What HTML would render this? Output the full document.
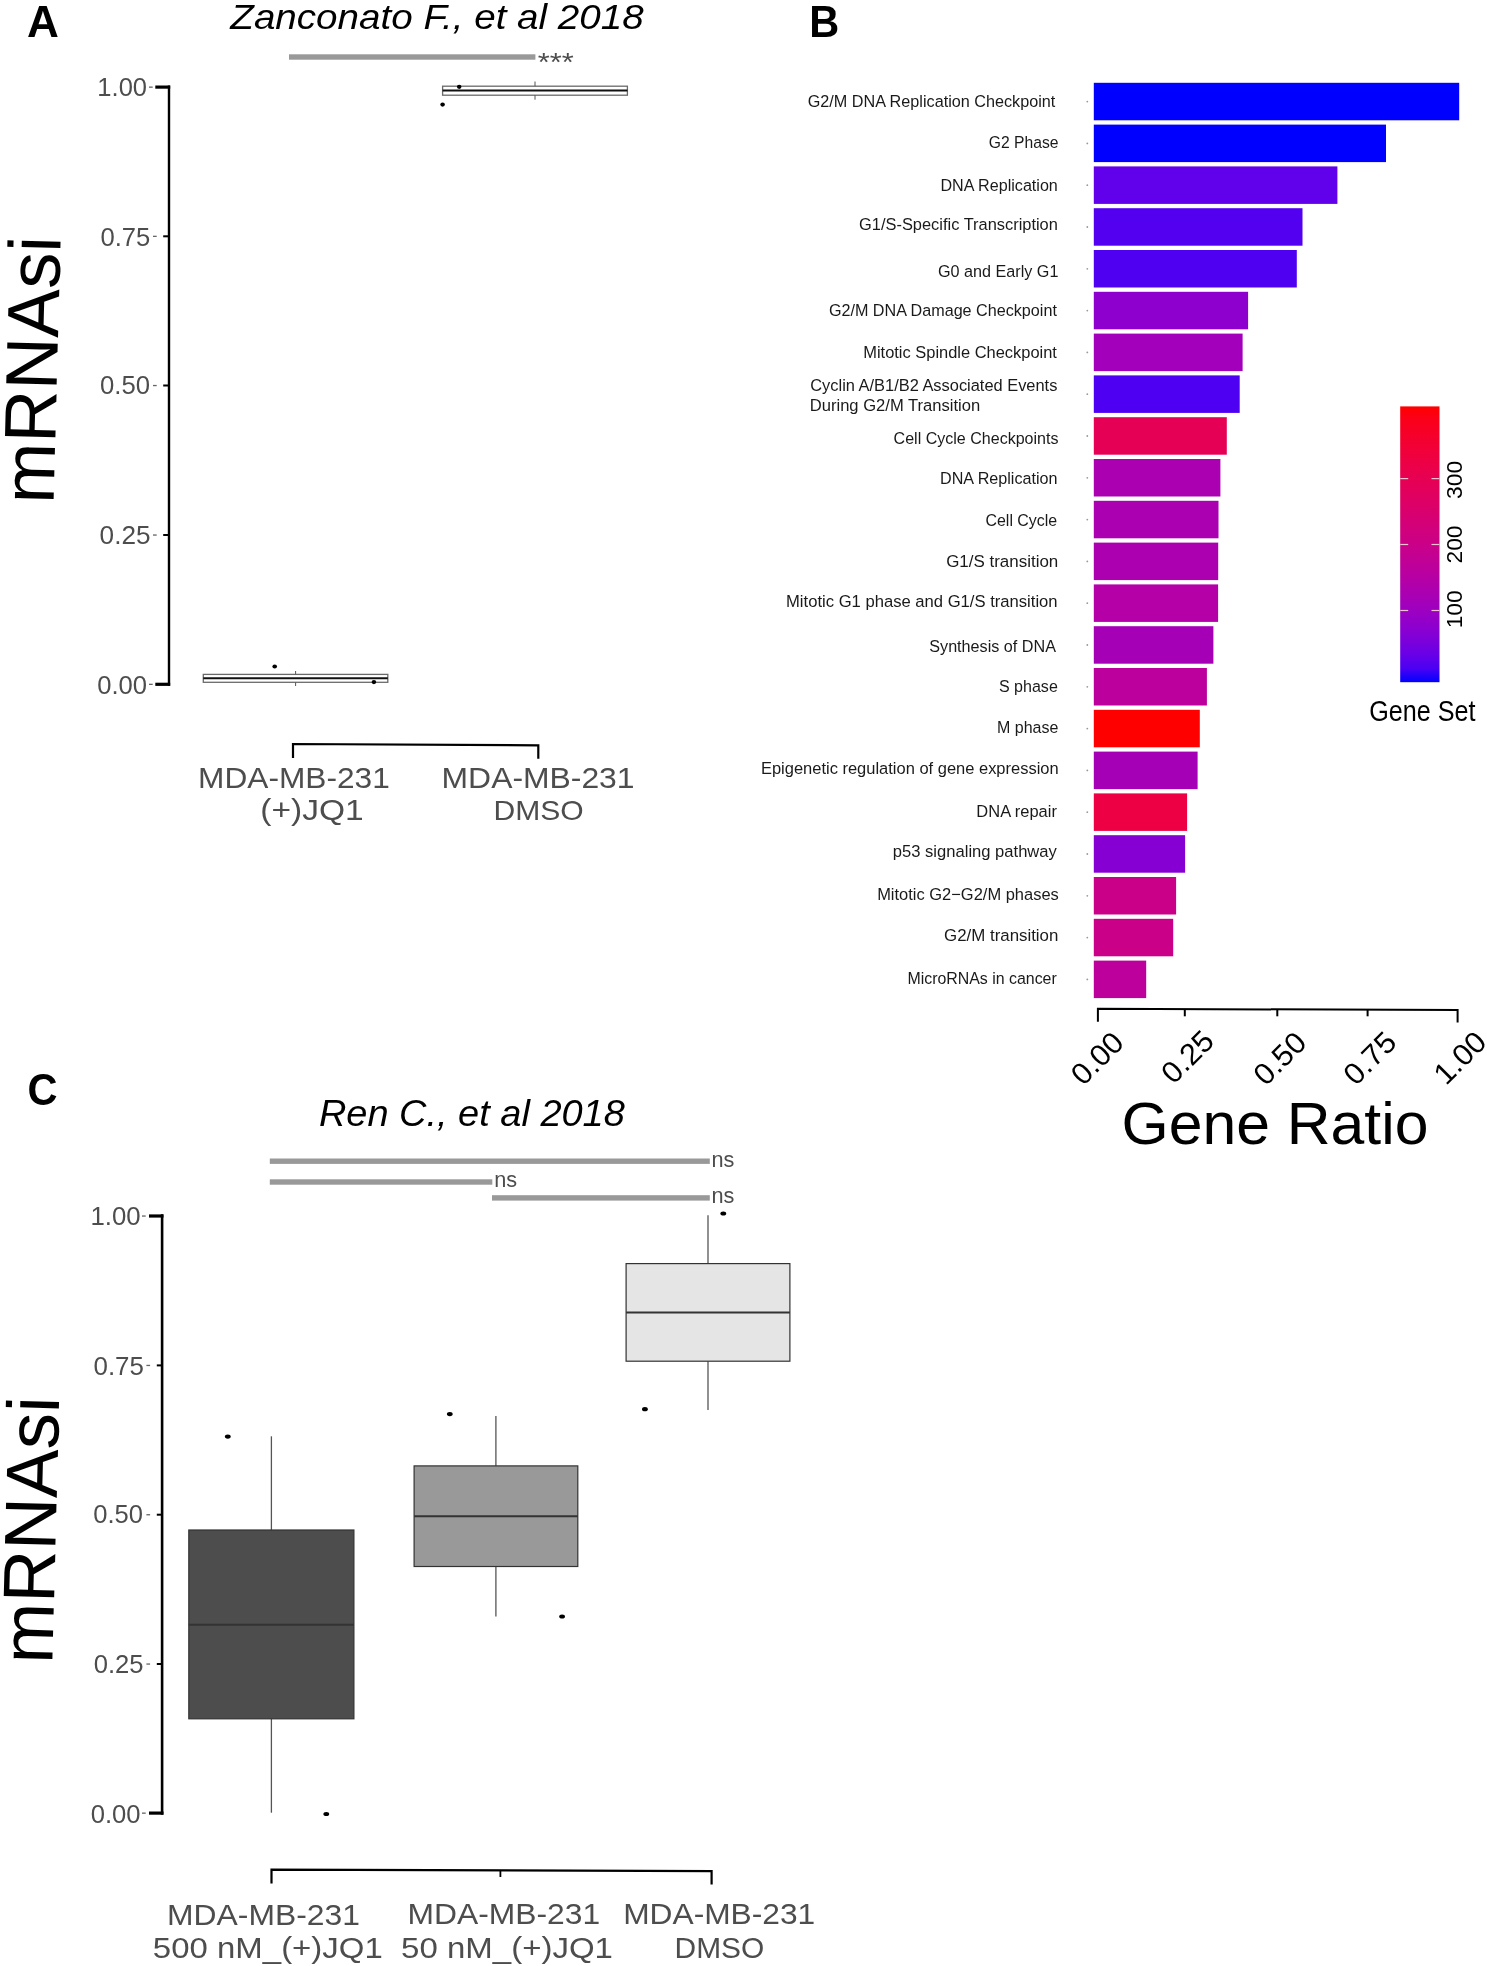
<!DOCTYPE html>
<html><head><meta charset="utf-8"><style>
html,body{margin:0;padding:0;background:#fff;}
svg{display:block;font-family:"Liberation Sans", sans-serif;will-change:transform;}
</style></head><body>
<svg width="1487" height="1966" viewBox="0 0 1487 1966">
<rect width="1487" height="1966" fill="#fff"/>
<text x="26.90" y="36.70" font-size="43.61" fill="#000" font-weight="bold" font-style="normal" textLength="31.86" lengthAdjust="spacingAndGlyphs" >A</text>
<text x="809.22" y="36.80" font-size="43.75" fill="#000" font-weight="bold" font-style="normal" textLength="29.96" lengthAdjust="spacingAndGlyphs" >B</text>
<text x="27.59" y="1104.97" font-size="44.21" fill="#000" font-weight="bold" font-style="normal" textLength="30.04" lengthAdjust="spacingAndGlyphs" >C</text>
<text x="230.34" y="28.60" font-size="35.76" fill="#000" font-weight="normal" font-style="italic" textLength="413.38" lengthAdjust="spacingAndGlyphs" >Zanconato F., et al 2018</text>
<rect x="289" y="54.3" width="246.4" height="5.4" fill="#999999"/>
<text x="537.80" y="70.72" font-size="26.49" fill="#4d4d4d" font-weight="normal" font-style="normal" textLength="35.98" lengthAdjust="spacingAndGlyphs" >***</text>
<line x1="169" y1="85.4" x2="169" y2="685.8" stroke="#000" stroke-width="2.4" stroke-linecap="butt"/>
<rect x="155.3" y="85.5" width="14.9" height="3.2" fill="#000"/>
<rect x="149.0" y="86.5" width="3.7" height="1.3" fill="#666"/>
<text x="97.36" y="95.95" font-size="25.71" fill="#4d4d4d" font-weight="normal" font-style="normal" textLength="49.64" lengthAdjust="spacingAndGlyphs" >1.00</text>
<rect x="163.2" y="235.3" width="6.5" height="2.0" fill="#000"/>
<rect x="153.0" y="235.70000000000002" width="3.7" height="1.3" fill="#666"/>
<text x="100.40" y="245.94" font-size="26.55" fill="#4d4d4d" font-weight="normal" font-style="normal" textLength="49.88" lengthAdjust="spacingAndGlyphs" >0.75</text>
<rect x="163.2" y="384.5" width="6.5" height="2.0" fill="#000"/>
<rect x="153.0" y="384.9" width="3.7" height="1.3" fill="#666"/>
<text x="100.00" y="394.14" font-size="26.27" fill="#4d4d4d" font-weight="normal" font-style="normal" textLength="50.01" lengthAdjust="spacingAndGlyphs" >0.50</text>
<rect x="163.2" y="534.0" width="6.5" height="2.0" fill="#000"/>
<rect x="153.0" y="534.4" width="3.7" height="1.3" fill="#666"/>
<text x="99.58" y="544.04" font-size="26.41" fill="#4d4d4d" font-weight="normal" font-style="normal" textLength="50.92" lengthAdjust="spacingAndGlyphs" >0.25</text>
<rect x="155.3" y="682.6999999999999" width="14.9" height="3.2" fill="#000"/>
<rect x="149.0" y="683.6999999999999" width="3.7" height="1.3" fill="#666"/>
<text x="97.20" y="693.74" font-size="26.13" fill="#4d4d4d" font-weight="normal" font-style="normal" textLength="49.80" lengthAdjust="spacingAndGlyphs" >0.00</text>
<text x="0" y="0" font-size="73.3" fill="#000" transform="translate(53.6,504.0) rotate(-88.5)" textLength="267.4" lengthAdjust="spacingAndGlyphs">mRNAsi</text>
<rect x="442.6" y="86.2" width="184.79999999999995" height="9.0" fill="#fff" stroke="#6a6a6a" stroke-width="1.3"/>
<line x1="442.6" y1="90.6" x2="627.4" y2="90.6" stroke="#111" stroke-width="2.0" stroke-linecap="butt"/>
<line x1="535" y1="81.5" x2="535" y2="86.2" stroke="#555" stroke-width="1" stroke-linecap="butt"/>
<line x1="535" y1="95.2" x2="535" y2="99.7" stroke="#555" stroke-width="1" stroke-linecap="butt"/>
<ellipse cx="459.2" cy="86.8" rx="2.3" ry="2.1" fill="#000"/>
<ellipse cx="442.6" cy="104.6" rx="2.3" ry="2.1" fill="#000"/>
<rect x="203.3" y="674.4" width="184.5" height="7.899999999999977" fill="#fff" stroke="#6a6a6a" stroke-width="1.3"/>
<line x1="203.3" y1="678.2" x2="387.8" y2="678.2" stroke="#111" stroke-width="2.0" stroke-linecap="butt"/>
<line x1="295.6" y1="671" x2="295.6" y2="674.4" stroke="#555" stroke-width="1" stroke-linecap="butt"/>
<line x1="295.6" y1="682.3" x2="295.6" y2="686" stroke="#555" stroke-width="1" stroke-linecap="butt"/>
<ellipse cx="274.7" cy="666.5" rx="2.3" ry="2.1" fill="#000"/>
<ellipse cx="373.9" cy="682.1" rx="2.3" ry="2.1" fill="#000"/>
<polyline points="293,758 293,744 538.3,745.3 538.3,758.7" fill="none" stroke="#000" stroke-width="2.2"/>
<text x="198.10" y="787.50" font-size="28.92" fill="#4d4d4d" font-weight="normal" font-style="normal" textLength="191.64" lengthAdjust="spacingAndGlyphs" >MDA-MB-231</text>
<text x="260.22" y="820.20" font-size="28.90" fill="#4d4d4d" font-weight="normal" font-style="normal" textLength="103.42" lengthAdjust="spacingAndGlyphs" >(+)JQ1</text>
<text x="441.59" y="787.50" font-size="28.92" fill="#4d4d4d" font-weight="normal" font-style="normal" textLength="192.97" lengthAdjust="spacingAndGlyphs" >MDA-MB-231</text>
<text x="493.43" y="820.40" font-size="27.47" fill="#4d4d4d" font-weight="normal" font-style="normal" textLength="90.21" lengthAdjust="spacingAndGlyphs" >DMSO</text>
<rect x="1093.8" y="82.8" width="365.4000000000001" height="37.5" fill="#0000ff"/>
<ellipse cx="1087.3" cy="101.6" rx="0.9" ry="0.9" fill="#999"/>
<text x="807.69" y="107.20" font-size="16.70" fill="#1a1a1a" font-weight="normal" font-style="normal" textLength="247.63" lengthAdjust="spacingAndGlyphs" >G2/M DNA Replication Checkpoint</text>
<rect x="1093.8" y="124.6" width="292.20000000000005" height="37.5" fill="#0000ff"/>
<ellipse cx="1087.3" cy="143.4" rx="0.9" ry="0.9" fill="#999"/>
<text x="988.81" y="147.60" font-size="16.70" fill="#1a1a1a" font-weight="normal" font-style="normal" textLength="69.68" lengthAdjust="spacingAndGlyphs" >G2 Phase</text>
<rect x="1093.8" y="166.39999999999998" width="243.60000000000014" height="37.5" fill="#6100ea"/>
<ellipse cx="1087.3" cy="185.2" rx="0.9" ry="0.9" fill="#999"/>
<text x="940.49" y="191.40" font-size="16.70" fill="#1a1a1a" font-weight="normal" font-style="normal" textLength="117.35" lengthAdjust="spacingAndGlyphs" >DNA Replication</text>
<rect x="1093.8" y="208.2" width="208.70000000000005" height="37.5" fill="#5300f0"/>
<ellipse cx="1087.3" cy="227.0" rx="0.9" ry="0.9" fill="#999"/>
<text x="859.08" y="230.30" font-size="16.70" fill="#1a1a1a" font-weight="normal" font-style="normal" textLength="198.78" lengthAdjust="spacingAndGlyphs" >G1/S-Specific Transcription</text>
<rect x="1093.8" y="250.0" width="203.0" height="37.5" fill="#5000f1"/>
<ellipse cx="1087.3" cy="268.8" rx="0.9" ry="0.9" fill="#999"/>
<text x="937.99" y="276.90" font-size="16.70" fill="#1a1a1a" font-weight="normal" font-style="normal" textLength="120.40" lengthAdjust="spacingAndGlyphs" >G0 and Early G1</text>
<rect x="1093.8" y="291.8" width="154.29999999999995" height="37.5" fill="#8d00ce"/>
<ellipse cx="1087.3" cy="310.6" rx="0.9" ry="0.9" fill="#999"/>
<text x="828.89" y="316.30" font-size="16.70" fill="#1a1a1a" font-weight="normal" font-style="normal" textLength="228.03" lengthAdjust="spacingAndGlyphs" >G2/M DNA Damage Checkpoint</text>
<rect x="1093.8" y="333.59999999999997" width="148.79999999999995" height="37.5" fill="#a200bb"/>
<ellipse cx="1087.3" cy="352.4" rx="0.9" ry="0.9" fill="#999"/>
<text x="863.25" y="358.00" font-size="16.70" fill="#1a1a1a" font-weight="normal" font-style="normal" textLength="193.67" lengthAdjust="spacingAndGlyphs" >Mitotic Spindle Checkpoint</text>
<rect x="1093.8" y="375.4" width="145.9000000000001" height="37.5" fill="#4d00f2"/>
<ellipse cx="1087.3" cy="394.2" rx="0.9" ry="0.9" fill="#999"/>
<text x="810.27" y="390.90" font-size="16.70" fill="#1a1a1a" font-weight="normal" font-style="normal" textLength="247.12" lengthAdjust="spacingAndGlyphs" >Cyclin A/B1/B2 Associated Events</text>
<rect x="1093.8" y="417.2" width="133.0" height="37.5" fill="#e50056"/>
<ellipse cx="1087.3" cy="436.0" rx="0.9" ry="0.9" fill="#999"/>
<text x="893.59" y="444.00" font-size="16.70" fill="#1a1a1a" font-weight="normal" font-style="normal" textLength="164.89" lengthAdjust="spacingAndGlyphs" >Cell Cycle Checkpoints</text>
<rect x="1093.8" y="459.0" width="126.60000000000014" height="37.5" fill="#aa00b2"/>
<ellipse cx="1087.3" cy="477.8" rx="0.9" ry="0.9" fill="#999"/>
<text x="939.99" y="484.00" font-size="16.70" fill="#1a1a1a" font-weight="normal" font-style="normal" textLength="117.56" lengthAdjust="spacingAndGlyphs" >DNA Replication</text>
<rect x="1093.8" y="500.8" width="124.70000000000005" height="37.5" fill="#aa00b2"/>
<ellipse cx="1087.3" cy="519.6" rx="0.9" ry="0.9" fill="#999"/>
<text x="985.49" y="525.90" font-size="16.70" fill="#1a1a1a" font-weight="normal" font-style="normal" textLength="71.72" lengthAdjust="spacingAndGlyphs" >Cell Cycle</text>
<rect x="1093.8" y="542.5999999999999" width="124.40000000000009" height="37.5" fill="#ac00b0"/>
<ellipse cx="1087.3" cy="561.3999999999999" rx="0.9" ry="0.9" fill="#999"/>
<text x="946.15" y="566.80" font-size="16.70" fill="#1a1a1a" font-weight="normal" font-style="normal" textLength="112.15" lengthAdjust="spacingAndGlyphs" >G1/S transition</text>
<rect x="1093.8" y="584.4" width="124.29999999999995" height="37.5" fill="#b400a6"/>
<ellipse cx="1087.3" cy="603.1999999999999" rx="0.9" ry="0.9" fill="#999"/>
<text x="786.04" y="607.00" font-size="16.70" fill="#1a1a1a" font-weight="normal" font-style="normal" textLength="271.54" lengthAdjust="spacingAndGlyphs" >Mitotic G1 phase and G1/S transition</text>
<rect x="1093.8" y="626.1999999999999" width="119.60000000000014" height="37.5" fill="#a600b7"/>
<ellipse cx="1087.3" cy="644.9999999999999" rx="0.9" ry="0.9" fill="#999"/>
<text x="929.27" y="651.50" font-size="16.70" fill="#1a1a1a" font-weight="normal" font-style="normal" textLength="126.67" lengthAdjust="spacingAndGlyphs" >Synthesis of DNA</text>
<rect x="1093.8" y="667.9999999999999" width="113.10000000000014" height="37.5" fill="#bb009d"/>
<ellipse cx="1087.3" cy="686.7999999999998" rx="0.9" ry="0.9" fill="#999"/>
<text x="998.97" y="692.10" font-size="16.70" fill="#1a1a1a" font-weight="normal" font-style="normal" textLength="58.84" lengthAdjust="spacingAndGlyphs" >S phase</text>
<rect x="1093.8" y="709.8" width="106.0" height="37.5" fill="#ff0000"/>
<ellipse cx="1087.3" cy="728.5999999999999" rx="0.9" ry="0.9" fill="#999"/>
<text x="996.99" y="733.00" font-size="16.70" fill="#1a1a1a" font-weight="normal" font-style="normal" textLength="61.32" lengthAdjust="spacingAndGlyphs" >M phase</text>
<rect x="1093.8" y="751.5999999999999" width="103.79999999999995" height="37.5" fill="#a600b7"/>
<ellipse cx="1087.3" cy="770.3999999999999" rx="0.9" ry="0.9" fill="#999"/>
<text x="760.95" y="774.40" font-size="16.70" fill="#1a1a1a" font-weight="normal" font-style="normal" textLength="297.72" lengthAdjust="spacingAndGlyphs" >Epigenetic regulation of gene expression</text>
<rect x="1093.8" y="793.3999999999999" width="93.29999999999995" height="37.5" fill="#ed0044"/>
<ellipse cx="1087.3" cy="812.1999999999998" rx="0.9" ry="0.9" fill="#999"/>
<text x="976.36" y="817.30" font-size="16.70" fill="#1a1a1a" font-weight="normal" font-style="normal" textLength="80.51" lengthAdjust="spacingAndGlyphs" >DNA repair</text>
<rect x="1093.8" y="835.1999999999999" width="91.29999999999995" height="37.5" fill="#8700d3"/>
<ellipse cx="1087.3" cy="853.9999999999999" rx="0.9" ry="0.9" fill="#999"/>
<text x="892.83" y="857.10" font-size="16.70" fill="#1a1a1a" font-weight="normal" font-style="normal" textLength="164.00" lengthAdjust="spacingAndGlyphs" >p53 signaling pathway</text>
<rect x="1093.8" y="876.9999999999999" width="82.29999999999995" height="37.5" fill="#ca0088"/>
<ellipse cx="1087.3" cy="895.7999999999998" rx="0.9" ry="0.9" fill="#999"/>
<text x="877.15" y="900.00" font-size="16.70" fill="#1a1a1a" font-weight="normal" font-style="normal" textLength="181.65" lengthAdjust="spacingAndGlyphs" >Mitotic G2−G2/M phases</text>
<rect x="1093.8" y="918.8" width="79.40000000000009" height="37.5" fill="#ca0088"/>
<ellipse cx="1087.3" cy="937.5999999999999" rx="0.9" ry="0.9" fill="#999"/>
<text x="944.05" y="941.40" font-size="16.70" fill="#1a1a1a" font-weight="normal" font-style="normal" textLength="114.34" lengthAdjust="spacingAndGlyphs" >G2/M transition</text>
<rect x="1093.8" y="960.5999999999999" width="52.40000000000009" height="37.5" fill="#bd009b"/>
<ellipse cx="1087.3" cy="979.3999999999999" rx="0.9" ry="0.9" fill="#999"/>
<text x="907.40" y="984.20" font-size="16.70" fill="#1a1a1a" font-weight="normal" font-style="normal" textLength="149.37" lengthAdjust="spacingAndGlyphs" >MicroRNAs in cancer</text>
<text x="809.75" y="410.90" font-size="16.70" fill="#1a1a1a" font-weight="normal" font-style="normal" textLength="170.42" lengthAdjust="spacingAndGlyphs" >During G2/M Transition</text>
<polyline points="1097.9,1021.8 1097.9,1008.8 1457.6,1010.0 1457.6,1022.4" fill="none" stroke="#000" stroke-width="2.0"/>
<line x1="1184.8" y1="1009" x2="1184.8" y2="1016.3" stroke="#000" stroke-width="2.0" stroke-linecap="butt"/>
<line x1="1277.3" y1="1009" x2="1277.3" y2="1016.3" stroke="#000" stroke-width="2.0" stroke-linecap="butt"/>
<line x1="1367.6" y1="1009" x2="1367.6" y2="1016.3" stroke="#000" stroke-width="2.0" stroke-linecap="butt"/>
<text x="0" y="0" font-size="30" fill="#000" text-anchor="end" textLength="60" lengthAdjust="spacingAndGlyphs" transform="translate(1125.65,1044.3) rotate(-45)">0.00</text>
<text x="0" y="0" font-size="30" fill="#000" text-anchor="end" textLength="60" lengthAdjust="spacingAndGlyphs" transform="translate(1215.9,1042.8) rotate(-45)">0.25</text>
<text x="0" y="0" font-size="30" fill="#000" text-anchor="end" textLength="60" lengthAdjust="spacingAndGlyphs" transform="translate(1308.25,1044.5) rotate(-45)">0.50</text>
<text x="0" y="0" font-size="30" fill="#000" text-anchor="end" textLength="60" lengthAdjust="spacingAndGlyphs" transform="translate(1398.25,1044.2) rotate(-45)">0.75</text>
<text x="0" y="0" font-size="30" fill="#000" text-anchor="end" textLength="60" lengthAdjust="spacingAndGlyphs" transform="translate(1488.4,1043.8) rotate(-45)">1.00</text>
<text x="1121.55" y="1144.00" font-size="59.59" fill="#000" font-weight="normal" font-style="normal" textLength="306.90" lengthAdjust="spacingAndGlyphs" >Gene Ratio</text>
<defs><linearGradient id="cb" x1="0" y1="1" x2="0" y2="0"><stop offset="0.00" stop-color="#0000ff"/><stop offset="0.05" stop-color="#4b00f3"/><stop offset="0.10" stop-color="#6800e7"/><stop offset="0.15" stop-color="#7c00da"/><stop offset="0.20" stop-color="#8d00ce"/><stop offset="0.25" stop-color="#9a00c3"/><stop offset="0.30" stop-color="#a600b7"/><stop offset="0.35" stop-color="#b000ab"/><stop offset="0.40" stop-color="#ba009f"/><stop offset="0.45" stop-color="#c20094"/><stop offset="0.50" stop-color="#ca0088"/><stop offset="0.55" stop-color="#d1007d"/><stop offset="0.60" stop-color="#d70072"/><stop offset="0.65" stop-color="#dd0066"/><stop offset="0.70" stop-color="#e3005b"/><stop offset="0.75" stop-color="#e80050"/><stop offset="0.80" stop-color="#ed0044"/><stop offset="0.85" stop-color="#f20037"/><stop offset="0.90" stop-color="#f6002a"/><stop offset="0.95" stop-color="#fb001a"/><stop offset="1.00" stop-color="#ff0000"/></linearGradient></defs>
<rect x="1400.2" y="406.4" width="39.3" height="275.8" fill="url(#cb)"/>
<line x1="1400.2" y1="478.6" x2="1408.2" y2="478.6" stroke="#f0c0d0" stroke-width="1.2" stroke-linecap="butt"/>
<line x1="1431.5" y1="478.6" x2="1439.5" y2="478.6" stroke="#f0c0d0" stroke-width="1.2" stroke-linecap="butt"/>
<line x1="1400.2" y1="544.5" x2="1408.2" y2="544.5" stroke="#f0c0d0" stroke-width="1.2" stroke-linecap="butt"/>
<line x1="1431.5" y1="544.5" x2="1439.5" y2="544.5" stroke="#f0c0d0" stroke-width="1.2" stroke-linecap="butt"/>
<line x1="1400.2" y1="610.5" x2="1408.2" y2="610.5" stroke="#f0c0d0" stroke-width="1.2" stroke-linecap="butt"/>
<line x1="1431.5" y1="610.5" x2="1439.5" y2="610.5" stroke="#f0c0d0" stroke-width="1.2" stroke-linecap="butt"/>
<text x="0" y="0" font-size="22" fill="#000" text-anchor="middle" textLength="38" lengthAdjust="spacingAndGlyphs" transform="translate(1462,479.9) rotate(-90)">300</text>
<text x="0" y="0" font-size="22" fill="#000" text-anchor="middle" textLength="38" lengthAdjust="spacingAndGlyphs" transform="translate(1462,544.5) rotate(-90)">200</text>
<text x="0" y="0" font-size="22" fill="#000" text-anchor="middle" textLength="38" lengthAdjust="spacingAndGlyphs" transform="translate(1462,609.3) rotate(-90)">100</text>
<text x="1369.23" y="721.00" font-size="28.78" fill="#000" font-weight="normal" font-style="normal" textLength="106.35" lengthAdjust="spacingAndGlyphs" >Gene Set</text>
<text x="318.93" y="1125.50" font-size="36.34" fill="#000" font-weight="normal" font-style="italic" textLength="305.89" lengthAdjust="spacingAndGlyphs" >Ren C., et al 2018</text>
<rect x="269.8" y="1158.5" width="440" height="5.4" fill="#999999"/>
<rect x="269.8" y="1179.3" width="222.5" height="5.4" fill="#999999"/>
<rect x="492.0" y="1195.2" width="217.8" height="5.4" fill="#999999"/>
<text x="711.56" y="1167.30" font-size="22.12" fill="#4d4d4d" font-weight="normal" font-style="normal" textLength="22.93" lengthAdjust="spacingAndGlyphs" >ns</text>
<text x="494.26" y="1186.70" font-size="22.67" fill="#4d4d4d" font-weight="normal" font-style="normal" textLength="22.93" lengthAdjust="spacingAndGlyphs" >ns</text>
<text x="711.56" y="1202.60" font-size="21.93" fill="#4d4d4d" font-weight="normal" font-style="normal" textLength="22.93" lengthAdjust="spacingAndGlyphs" >ns</text>
<line x1="162.1" y1="1214.2" x2="162.1" y2="1814.7" stroke="#000" stroke-width="2.6" stroke-linecap="butt"/>
<rect x="149.0" y="1214.4" width="14.5" height="3.2" fill="#000"/>
<rect x="142.0" y="1215.4" width="3.7" height="1.3" fill="#666"/>
<text x="90.54" y="1225.24" font-size="26.13" fill="#4d4d4d" font-weight="normal" font-style="normal" textLength="50.17" lengthAdjust="spacingAndGlyphs" >1.00</text>
<rect x="156.8" y="1364.4" width="6.0" height="2.0" fill="#000"/>
<rect x="146.4" y="1364.8000000000002" width="3.7" height="1.3" fill="#666"/>
<text x="93.49" y="1375.24" font-size="26.13" fill="#4d4d4d" font-weight="normal" font-style="normal" textLength="50.40" lengthAdjust="spacingAndGlyphs" >0.75</text>
<rect x="156.8" y="1513.7" width="6.0" height="2.0" fill="#000"/>
<rect x="146.4" y="1514.1000000000001" width="3.7" height="1.3" fill="#666"/>
<text x="93.20" y="1523.34" font-size="26.27" fill="#4d4d4d" font-weight="normal" font-style="normal" textLength="49.80" lengthAdjust="spacingAndGlyphs" >0.50</text>
<rect x="156.8" y="1663.0" width="6.0" height="2.0" fill="#000"/>
<rect x="146.4" y="1663.4" width="3.7" height="1.3" fill="#666"/>
<text x="93.70" y="1673.35" font-size="25.85" fill="#4d4d4d" font-weight="normal" font-style="normal" textLength="49.88" lengthAdjust="spacingAndGlyphs" >0.25</text>
<rect x="149.0" y="1811.5" width="14.5" height="3.2" fill="#000"/>
<rect x="142.0" y="1812.5" width="3.7" height="1.3" fill="#666"/>
<text x="90.70" y="1822.94" font-size="26.27" fill="#4d4d4d" font-weight="normal" font-style="normal" textLength="49.90" lengthAdjust="spacingAndGlyphs" >0.00</text>
<text x="0" y="0" font-size="73.3" fill="#000" transform="translate(52.3,1664.0) rotate(-88.5)" textLength="267.0" lengthAdjust="spacingAndGlyphs">mRNAsi</text>
<line x1="271.4" y1="1436.3" x2="271.4" y2="1530" stroke="#555" stroke-width="1.3" stroke-linecap="butt"/>
<line x1="271.4" y1="1718.8" x2="271.4" y2="1812.7" stroke="#555" stroke-width="1.3" stroke-linecap="butt"/>
<rect x="188.8" y="1530" width="165.09999999999997" height="188.79999999999995" fill="#4d4d4d" stroke="#333" stroke-width="1.2"/>
<line x1="188.8" y1="1624.7" x2="353.9" y2="1624.7" stroke="#333" stroke-width="2.0" stroke-linecap="butt"/>
<ellipse cx="227.8" cy="1436.6" rx="2.9" ry="2.1" fill="#000"/>
<ellipse cx="326.3" cy="1814" rx="2.9" ry="2.1" fill="#000"/>
<line x1="495.9" y1="1416.1" x2="495.9" y2="1465.9" stroke="#555" stroke-width="1.3" stroke-linecap="butt"/>
<line x1="495.9" y1="1566.5" x2="495.9" y2="1616.5" stroke="#555" stroke-width="1.3" stroke-linecap="butt"/>
<rect x="414.1" y="1465.9" width="163.69999999999993" height="100.59999999999991" fill="#999999" stroke="#333" stroke-width="1.2"/>
<line x1="414.1" y1="1516.3" x2="577.8" y2="1516.3" stroke="#333" stroke-width="2.0" stroke-linecap="butt"/>
<ellipse cx="449.8" cy="1414.1" rx="2.9" ry="2.1" fill="#000"/>
<ellipse cx="562.1" cy="1616.5" rx="2.9" ry="2.1" fill="#000"/>
<line x1="708" y1="1215.2" x2="708" y2="1263.6" stroke="#555" stroke-width="1.3" stroke-linecap="butt"/>
<line x1="708" y1="1361.2" x2="708" y2="1409.9" stroke="#555" stroke-width="1.3" stroke-linecap="butt"/>
<rect x="626.1" y="1263.6" width="163.79999999999995" height="97.60000000000014" fill="#e5e5e5" stroke="#333" stroke-width="1.2"/>
<line x1="626.1" y1="1312.4" x2="789.9" y2="1312.4" stroke="#333" stroke-width="2.0" stroke-linecap="butt"/>
<ellipse cx="723.3" cy="1213.5" rx="2.9" ry="2.1" fill="#000"/>
<ellipse cx="644.9" cy="1409.2" rx="2.9" ry="2.1" fill="#000"/>
<polyline points="271.5,1883.4 271.5,1869.6 711.6,1871.2 711.6,1884.4" fill="none" stroke="#000" stroke-width="2.2"/>
<line x1="500.4" y1="1870.5" x2="500.4" y2="1877" stroke="#000" stroke-width="1.8" stroke-linecap="butt"/>
<text x="167.09" y="1924.60" font-size="28.60" fill="#4d4d4d" font-weight="normal" font-style="normal" textLength="192.76" lengthAdjust="spacingAndGlyphs" >MDA-MB-231</text>
<text x="152.88" y="1957.70" font-size="28.60" fill="#4d4d4d" font-weight="normal" font-style="normal" textLength="229.93" lengthAdjust="spacingAndGlyphs" >500 nM_(+)JQ1</text>
<text x="407.49" y="1924.30" font-size="28.60" fill="#4d4d4d" font-weight="normal" font-style="normal" textLength="192.66" lengthAdjust="spacingAndGlyphs" >MDA-MB-231</text>
<text x="401.08" y="1957.50" font-size="28.60" fill="#4d4d4d" font-weight="normal" font-style="normal" textLength="211.83" lengthAdjust="spacingAndGlyphs" >50 nM_(+)JQ1</text>
<text x="623.20" y="1924.30" font-size="28.60" fill="#4d4d4d" font-weight="normal" font-style="normal" textLength="192.05" lengthAdjust="spacingAndGlyphs" >MDA-MB-231</text>
<text x="674.55" y="1957.50" font-size="28.60" fill="#4d4d4d" font-weight="normal" font-style="normal" textLength="89.68" lengthAdjust="spacingAndGlyphs" >DMSO</text>
</svg></body></html>
